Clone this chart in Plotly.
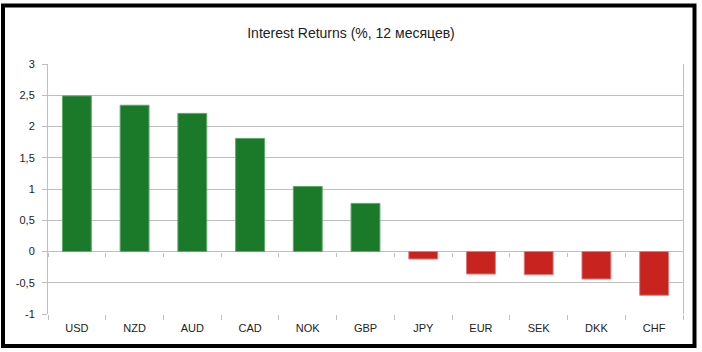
import plotly.graph_objects as go

categories = ["USD", "NZD", "AUD", "CAD", "NOK", "GBP", "JPY", "EUR", "SEK", "DKK", "CHF"]
values = [2.49, 2.34, 2.21, 1.81, 1.04, 0.77, -0.12, -0.36, -0.37, -0.44, -0.70]
y_tickvals = [-1, -0.5, 0, 0.5, 1, 1.5, 2, 2.5, 3]
y_ticktext = ["-1", "-0,5", "0", "0,5", "1", "1,5", "2", "2,5", "3"]
title_text = "Interest Returns (%, 12 месяцев)"

GREEN = "#1a7a2a"
RED = "#c8231f"
colors = [GREEN if v >= 0 else RED for v in values]
line_colors = ["#5fa86a" if v >= 0 else "#e07a76" for v in values]
GRID = "#bfbfbf"
FONT = "Liberation Sans, Arial, sans-serif"

W, H = 702, 352
L, R, T, B = 48, 19, 64, 38
pw, ph = W - L - R, H - T - B

fig = go.Figure()
fig.add_trace(go.Bar(
    x=categories, y=values,
    marker=dict(color=colors, line=dict(color=line_colors, width=1)),
    showlegend=False, hoverinfo="x+y",
))
# invisible trace to carry the category ticks on the zero line
fig.add_trace(go.Scatter(
    x=categories, y=[0] * len(categories), xaxis="x2", yaxis="y",
    mode="markers", marker=dict(opacity=0), showlegend=False, hoverinfo="skip",
))

def px_to_paper_x(px):
    return (px - L) / pw

def px_to_paper_y(py):
    return (H - B - py) / ph

fig.update_layout(
    width=W, height=H,
    margin=dict(l=L, r=R, t=T, b=B, pad=0),
    paper_bgcolor="white", plot_bgcolor="white",
    bargap=0.5,
    font=dict(family=FONT, size=11, color="#222222"),
    title=dict(text=title_text, x=0.5, xref="container", xanchor="center",
               y=1 - 33 / H, yanchor="middle", yref="container",
               font=dict(family=FONT, size=14, color="#222222")),
    xaxis=dict(type="category", range=[-0.5, len(categories) - 0.5],
               tickson="boundaries", ticks="outside", ticklen=5, tickcolor=GRID,
               ticklabelstandoff=6,
               showgrid=False, showline=False, zeroline=False,
               tickfont=dict(size=11, color="#222222"), fixedrange=True),
    xaxis2=dict(type="category", range=[-0.5, len(categories) - 0.5],
                overlaying="x", anchor="free", position=0.25, side="bottom",
                tickson="boundaries", ticks="outside", ticklen=4, tickcolor=GRID,
                showticklabels=False, showgrid=False, showline=False, zeroline=False),
    yaxis=dict(range=[-1, 3], tickvals=y_tickvals, ticktext=y_ticktext,
               ticks="outside", ticklen=5, tickcolor=GRID,
               ticklabelstandoff=5,
               showgrid=True, gridcolor=GRID, gridwidth=1,
               zeroline=True, zerolinecolor=GRID, zerolinewidth=1,
               showline=True, linecolor=GRID, linewidth=1, mirror=True,
               tickfont=dict(size=11, color="#222222")),
    shapes=[dict(type="rect", xref="paper", yref="paper",
                 x0=px_to_paper_x(3), x1=px_to_paper_x(694.5),
                 y0=px_to_paper_y(346), y1=px_to_paper_y(5.5),
                 line=dict(color="black", width=4), fillcolor="rgba(0,0,0,0)",
                 layer="above")],
)

fig.write_html("out.html")
